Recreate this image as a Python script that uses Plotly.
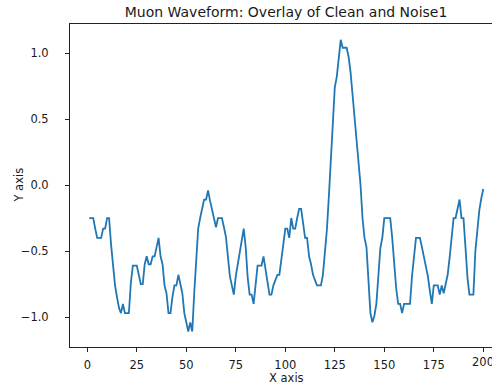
import plotly.graph_objects as go

x_vals = list(range(1, 201))
y_vals = [
    -0.25, -0.25, -0.25, -0.33, -0.40, -0.40, -0.40, -0.33, -0.33, -0.25,
    -0.25, -0.45, -0.62, -0.76, -0.85, -0.93, -0.97, -0.90, -0.97, -0.97,
    -0.97, -0.74, -0.61, -0.61, -0.61, -0.68, -0.75, -0.75, -0.60, -0.54,
    -0.60, -0.60, -0.54, -0.54, -0.47, -0.40, -0.54, -0.60, -0.76, -0.82,
    -0.97, -0.97, -0.85, -0.76, -0.76, -0.68, -0.75, -0.82, -0.97, -1.04,
    -1.11, -1.04, -1.11, -0.82, -0.54, -0.33, -0.25, -0.18, -0.11, -0.11,
    -0.04, -0.12, -0.19, -0.25, -0.32, -0.25, -0.25, -0.25, -0.32, -0.39,
    -0.54, -0.69, -0.76, -0.83, -0.69, -0.60, -0.50, -0.40, -0.33, -0.47,
    -0.70, -0.83, -0.83, -0.90, -0.75, -0.61, -0.61, -0.61, -0.54, -0.65,
    -0.76, -0.83, -0.83, -0.76, -0.72, -0.68, -0.68, -0.54, -0.45, -0.33,
    -0.33, -0.40, -0.25, -0.33, -0.33, -0.25, -0.18, -0.18, -0.29, -0.40,
    -0.40, -0.54, -0.60, -0.68, -0.72, -0.76, -0.76, -0.76, -0.68, -0.50,
    -0.34, -0.09, 0.22, 0.45, 0.74, 0.82, 0.95, 1.10, 1.04, 1.04,
    1.04, 0.97, 0.85, 0.68, 0.50, 0.35, 0.19, 0.00, -0.25, -0.40,
    -0.47, -0.75, -0.97, -1.04, -0.99, -0.90, -0.70, -0.48, -0.40, -0.25,
    -0.25, -0.25, -0.25, -0.40, -0.60, -0.78, -0.90, -0.90, -0.97, -0.90,
    -0.90, -0.90, -0.90, -0.69, -0.54, -0.40, -0.40, -0.40, -0.47, -0.54,
    -0.62, -0.69, -0.80, -0.90, -0.76, -0.76, -0.76, -0.83, -0.76, -0.82,
    -0.75, -0.68, -0.55, -0.40, -0.25, -0.25, -0.18, -0.11, -0.25, -0.25,
    -0.47, -0.70, -0.83, -0.83, -0.83, -0.50, -0.35, -0.19, -0.10, -0.03,
]

x_ticks = [0, 25, 50, 75, 100, 125, 150, 175, 200]
y_ticks = [-1.0, -0.5, 0.0, 0.5, 1.0]
y_tick_text = ["\u22121.0", "\u22120.5", "0.0", "0.5", "1.0"]

title_text = "Muon Waveform: Overlay of Clean and Noise1"
x_title = "X axis"
y_title = "Y axis"

FONT = "DejaVu Sans"
TXT = "#1a1a1a"
TICK_SIZE = 11.5

fig = go.Figure()
fig.add_trace(go.Scatter(
    x=x_vals, y=y_vals, mode="lines",
    line=dict(color="#1f77b4", width=1.8),
    showlegend=False,
))

# the last x tick label sits at the right edge of the picture and is cut there
edge_tick = x_ticks[-1]

fig.update_layout(
    width=492, height=386,
    margin=dict(l=70, r=0, t=24, b=39),
    paper_bgcolor="white", plot_bgcolor="white",
    font=dict(family=FONT, size=TICK_SIZE, color=TXT),
    title=dict(
        text=title_text, x=0.512, xref="paper", xanchor="center",
        y=1 - 12 / 386, yref="container", yanchor="middle",
        font=dict(family=FONT, size=14, color=TXT),
    ),
    annotations=[
        dict(text=x_title, x=0.512, y=-0.095, xref="paper", yref="paper",
             xanchor="center", yanchor="middle", showarrow=False,
             font=dict(family=FONT, size=TICK_SIZE, color=TXT)),
        dict(text=y_title, x=-0.123, y=0.5, xref="paper", yref="paper",
             xanchor="center", yanchor="middle", showarrow=False, textangle=-90,
             font=dict(family=FONT, size=TICK_SIZE, color=TXT)),
        dict(text=str(edge_tick), x=edge_tick, y=-0.045, xref="x", yref="paper",
             xanchor="center", yanchor="middle", showarrow=False,
             font=dict(family=FONT, size=TICK_SIZE, color=TXT)),
    ],
)

fig.update_xaxes(
    range=[-8.74, 204.4], tickvals=x_ticks,
    showgrid=False, zeroline=False,
    showline=True, linecolor="#222", linewidth=1, mirror=True,
    ticks="outside", ticklen=4, tickcolor="#222",
    ticklabelstandoff=3,
)
fig.update_yaxes(
    range=[-1.227, 1.22], tickvals=y_ticks, ticktext=y_tick_text,
    showgrid=False, zeroline=False,
    showline=True, linecolor="#222", linewidth=1,
    ticks="outside", ticklen=4, tickcolor="#222",
    ticklabelstandoff=14,
)

fig.write_html("out.html")
